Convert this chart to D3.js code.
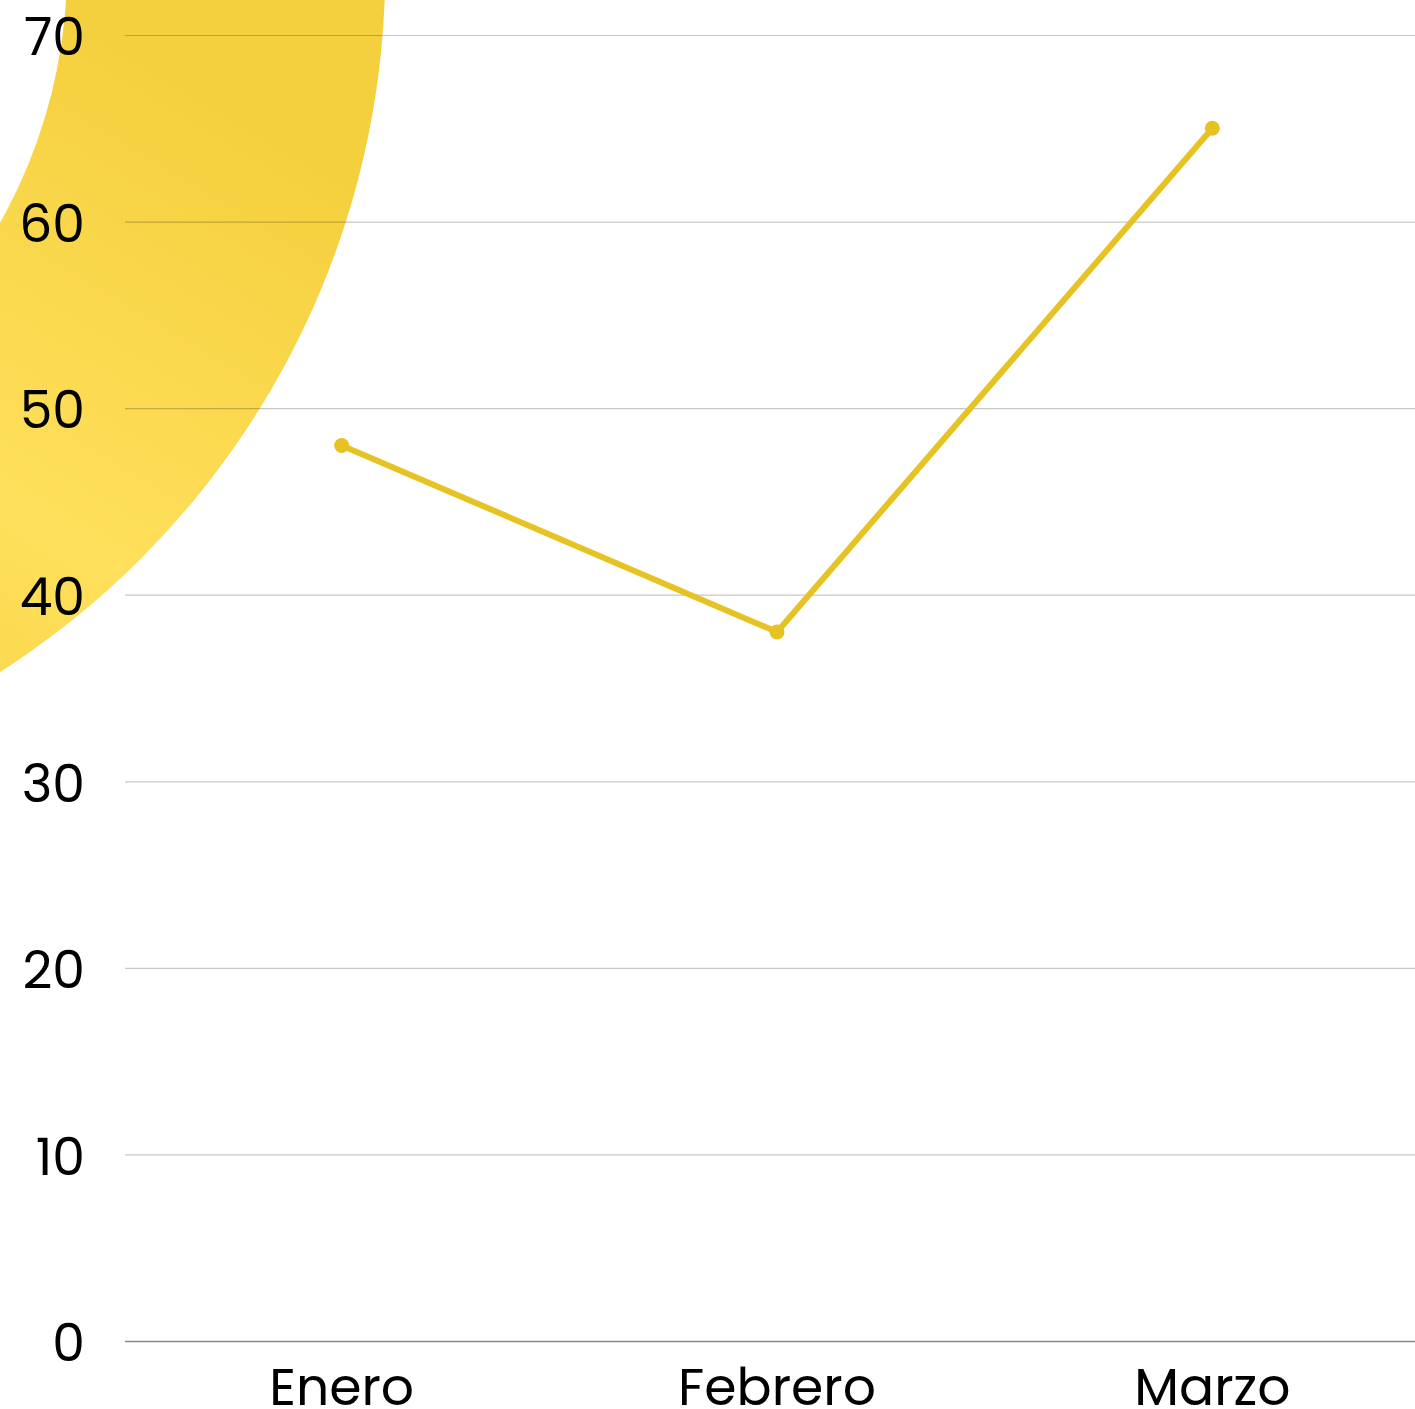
<!DOCTYPE html>
<html><head><meta charset="utf-8">
<script src="https://cdn.jsdelivr.net/npm/d3@7"></script>
<style>html,body{margin:0;padding:0;background:#fff;overflow:hidden}</style>
</head><body>
<script>
const categories = ["Enero", "Febrero", "Marzo"];
const values = [48, 38, 65];
const yTicks = [0, 10, 20, 30, 40, 50, 60, 70];

const W = 1415, H = 1409;
const svg = d3.select("body").append("svg").attr("width", W).attr("height", H);
const defs = svg.append("defs");
const grad = defs.append("linearGradient").attr("id", "ringGrad")
  .attr("gradientUnits", "userSpaceOnUse")
  .attr("x1", 400).attr("y1", -20).attr("x2", -20).attr("y2", 680);
grad.append("stop").attr("offset", "0%").attr("stop-color", "#f5d03e");
grad.append("stop").attr("offset", "55%").attr("stop-color", "#ffe05c");
grad.append("stop").attr("offset", "100%").attr("stop-color", "#f5d03e");

// decorative ring
const arc = d3.arc().innerRadius(518).outerRadius(836).startAngle(0).endAngle(2 * Math.PI);
svg.append("path").attr("d", arc()).attr("transform", "translate(-451,-32)")
  .attr("fill", "url(#ringGrad)");

const x = d3.scaleBand().domain(categories).range([124, 1430]);
const y = d3.scaleLinear().domain([0, 70]).range([1341, 35]);
const font = "Poppins, Inter, 'Open Sans', sans-serif";

// y axis labels
const yAxis = d3.axisLeft(y).tickValues(yTicks).tickSize(0).tickPadding(40).tickFormat(d3.format("d"));
const gy = svg.append("g").attr("transform", "translate(125,0)").call(yAxis);
gy.select(".domain").remove();
gy.selectAll("text").attr("font-family", font).attr("font-size", 52).attr("fill", "#000").attr("dy", "0.38em");
// gridlines
svg.append("g").selectAll("line").data(yTicks.filter(d => d > 0)).join("line")
  .attr("x1", 125).attr("x2", W).attr("y1", d => y(d) + 0.5).attr("y2", d => y(d) + 0.5)
  .attr("stroke", "#000").attr("stroke-opacity", 0.22).attr("stroke-width", 1.2);

// x axis
const xAxis = d3.axisBottom(x).tickSize(0).tickPadding(27);
const gx = svg.append("g").attr("transform", `translate(0,${y(0)})`).call(xAxis);
gx.select(".domain").remove();
gx.selectAll("text").attr("font-family", font).attr("font-size", 52).attr("fill", "#000");
svg.append("line").attr("x1", 125).attr("x2", W).attr("y1", y(0) + 0.5).attr("y2", y(0) + 0.5)
  .attr("stroke", "#888").attr("stroke-width", 1.5);

// line
const cx = d => x(d) + x.bandwidth() / 2;
const line = d3.line().x((d, i) => cx(categories[i])).y(d => y(d));
svg.append("path").datum(values).attr("d", line).attr("fill", "none")
  .attr("stroke", "#e6c222").attr("stroke-width", 6).attr("stroke-linejoin", "round");
svg.append("g").selectAll("circle").data(values).join("circle")
  .attr("cx", (d, i) => cx(categories[i])).attr("cy", d => y(d)).attr("r", 7.5)
  .attr("fill", "#e6c222");
</script>
</body></html>
